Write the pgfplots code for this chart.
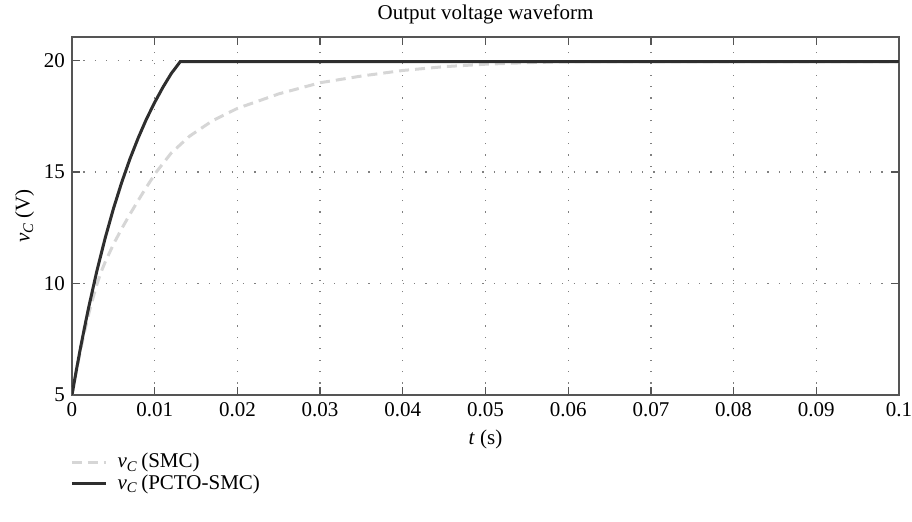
\documentclass[border=0pt]{standalone}
\usepackage{fontspec}
\setmainfont{Liberation Serif}
\usepackage{pgfplots}
\pgfplotsset{compat=1.18}
\definecolor{AxisGray}{HTML}{555555}
\definecolor{GridGray}{HTML}{808080}
\definecolor{DarkLine}{HTML}{2E2E2E}
\definecolor{LightDash}{HTML}{D6D6D6}
\newcommand\vC{\textit{v}\textsubscript{\textit{C}}}

\begin{document}
\begin{tikzpicture}
\begin{axis}[
  scale only axis,
  width=413.5pt,
  height=179pt,
  xmin=0, xmax=0.1,
  ymin=5, ymax=21.05,
  xtick={0,0.01,...,0.1},
  ytick={5,10,15,20},
  scaled x ticks=false,
  xticklabel style={/pgf/number format/fixed,/pgf/number format/precision=2},
  /pgf/number format/assume math mode=true,
  tick label style={font=\fontsize{10.5}{12}\selectfont},
  label style={font=\fontsize{10.5}{12}\selectfont},
  tick align=inside,
  major tick length=4pt,
  tick style={AxisGray, line width=0.6pt},
  axis line style={AxisGray, line width=0.6pt},
  grid=major,
  grid style={GridGray, line width=0.6pt, dash pattern=on 0.6pt off 5.1pt},
  title={Output voltage waveform},
  title style={font=\fontsize{10.5}{12}\selectfont, yshift=-3pt},
  xlabel={\textit{t} (s)},
  ylabel={\vC\,(V)},
  xlabel style={yshift=0pt},
  ylabel style={yshift=-2pt},
  legend style={at={([yshift=-27pt]rel axis cs:0,0)}, anchor=north west,
    draw=none, fill=none, font=\fontsize{10.5}{10.5}\selectfont,
    row sep=-2pt, inner sep=0pt, xshift=-1pt},
  legend cell align=left,
]
\addplot[LightDash, line width=1.5pt, dash pattern=on 5pt off 3pt] coordinates {
(0,5) (0.0005,6.0) (0.001,6.95) (0.0015,7.8) (0.002,8.6) (0.0025,9.3)
(0.003,9.95) (0.0035,10.5) (0.004,10.95) (0.005,11.75) (0.006,12.45)
(0.007,13.1) (0.008,13.72) (0.009,14.32) (0.0102,15.0) (0.012,15.85)
(0.0142,16.6) (0.017,17.3) (0.02,17.85) (0.025,18.5) (0.03,19.0)
(0.035,19.3) (0.04,19.55) (0.045,19.72) (0.05,19.83) (0.055,19.9)
(0.06,19.94) (0.07,19.95) (0.1,19.95)
};
\addlegendentry{\hspace{3pt}\vC\,(SMC)}
\addplot[DarkLine, line width=1.5pt] coordinates {
(0,5) (0.0005,6.06) (0.001,7.06) (0.0015,8.0) (0.002,8.9) (0.003,10.55)
(0.004,12.02) (0.005,13.34) (0.006,14.52) (0.007,15.58) (0.008,16.52)
(0.009,17.37) (0.010,18.12) (0.011,18.8) (0.012,19.41) (0.0131,19.95)
(0.1,19.95)
};
\addlegendentry{\hspace{3pt}\vC\,(PCTO-SMC)}
\end{axis}
\pgfresetboundingbox
\path[use as bounding box] ([xshift=-36pt,yshift=-63pt]current axis.south west)
  rectangle ([xshift=6.5pt,yshift=18.5pt]current axis.north east);
\end{tikzpicture}
\end{document}
